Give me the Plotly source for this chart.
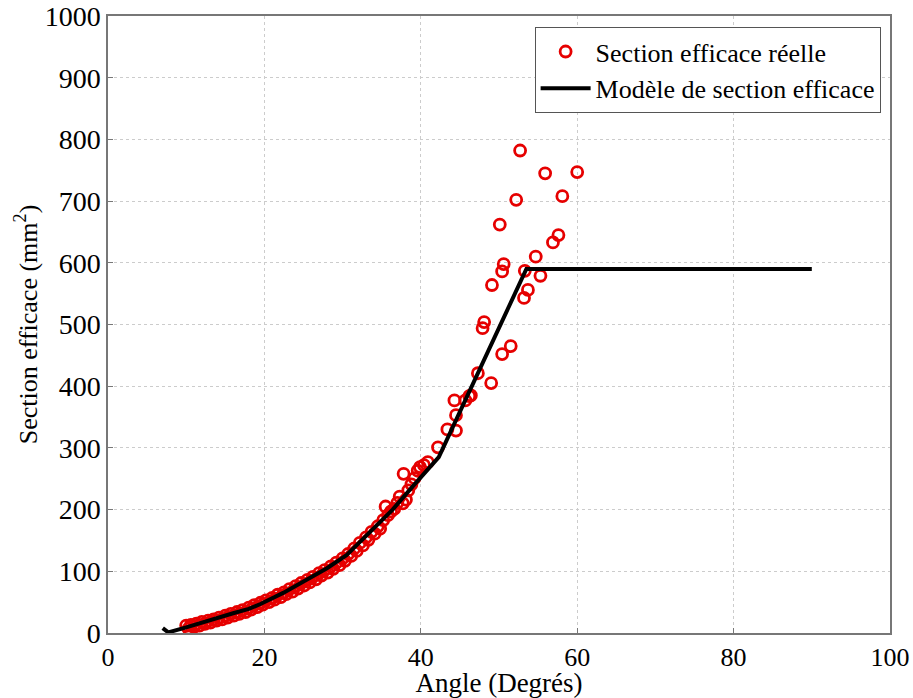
import plotly.graph_objects as go

# Measured cross-section (scatter)
meas_x = [10.0, 10.3, 10.6, 11.0, 11.3, 11.7, 12.0, 12.4, 12.8, 13.1, 13.5, 13.9, 14.2, 14.6,
          15.0, 15.3, 15.7, 16.1, 16.5, 16.8, 17.2, 17.6, 18.0, 18.3, 18.7, 19.1, 19.5, 19.8,
          20.2, 20.6, 21.0, 21.3, 21.7, 22.1, 22.5, 22.8, 23.2, 23.6, 24.0, 24.3, 24.7, 25.1,
          25.5, 25.8, 26.2, 26.6, 27.0, 27.3, 27.7, 28.1, 28.5, 28.8, 29.2, 29.6, 30.0, 30.3,
          30.7, 31.1, 31.5, 31.8, 32.2, 32.6, 33.0, 33.3, 33.7, 34.1, 34.5, 34.8, 35.2, 35.5,
          35.8, 36.2, 36.6, 37.0, 37.3, 37.7, 37.8, 38.1, 38.4, 38.8, 39.2, 39.6, 39.9, 40.4,
          40.9, 42.2, 43.4, 44.5, 44.3, 44.5, 46.4, 45.7, 46.2, 47.3, 47.9, 48.1, 49.0, 49.1,
          50.1, 50.4, 50.4, 50.6, 51.5, 52.2, 52.7, 53.2, 53.3, 53.7, 54.7, 55.3, 55.9, 56.9,
          57.6, 58.1, 60.0]
meas_y = [12, 7, 13, 10, 15, 12, 18, 15, 20, 17, 22, 20, 25, 22,
          28, 25, 31, 28, 34, 31, 37, 34, 41, 38, 45, 42, 49, 46,
          53, 50, 57, 54, 62, 58, 66, 63, 71, 67, 76, 72, 81, 77,
          86, 82, 91, 87, 97, 93, 102, 98, 108, 104, 114, 110, 121, 117,
          128, 125, 137, 133, 146, 142, 155, 151, 164, 161, 173, 169, 183, 205,
          191, 197, 201, 211, 221, 210, 258, 216, 231, 241, 251, 263, 269, 272,
          277, 301, 330, 328, 377, 353, 385, 377, 384, 421, 494, 504, 405, 564,
          662, 452, 586, 598, 465, 702, 782, 543, 587, 556, 610, 579, 745, 633,
          645, 708, 747]

# Cross-section model (line)
model_x = [7.0, 7.7, 10, 12, 14, 16, 18, 19.5, 22.4, 24.6, 28, 30.5, 33, 36.4, 39, 42.3, 53.5, 90]
model_y = [8, 1, 9, 17, 25, 32, 39, 47, 65, 81, 105, 126, 157, 200, 238, 285, 590, 590]

x_ticks = [0, 20, 40, 60, 80, 100]
y_ticks = [0, 100, 200, 300, 400, 500, 600, 700, 800, 900, 1000]

FONT = "Liberation Serif"
RED = "#e60000"

fig = go.Figure()
fig.add_trace(go.Scatter(
    x=meas_x, y=meas_y, mode="markers", name="Section efficace réelle",
    marker=dict(symbol="circle-open", size=11, color=RED,
                line=dict(width=2.8, color=RED)),
))
fig.add_trace(go.Scatter(
    x=model_x, y=model_y, mode="lines", name="Modèle de section efficace",
    line=dict(color="black", width=4),
))

axis_common = dict(
    showline=True, linecolor="#777777", linewidth=1.5, mirror=True,
    ticks="inside", ticklen=5, tickcolor="#777777",
    showgrid=True, gridcolor="#cccccc", griddash="dot", gridwidth=1,
    zeroline=False, automargin=False, ticklabeloverflow="allow",
)

fig.update_layout(
    width=913, height=698,
    margin=dict(l=108, r=23, t=16, b=65),
    plot_bgcolor="white", paper_bgcolor="white",
    font=dict(family=FONT, color="black"),
    xaxis=dict(range=[0, 100], tickvals=x_ticks,
               tickfont=dict(family=FONT, size=26, color="black"),
               title=dict(text="Angle (Degrés)", font=dict(family=FONT, size=27), standoff=0),
               **axis_common),
    yaxis=dict(range=[0, 1000], tickvals=y_ticks,
               tickfont=dict(family=FONT, size=28, color="black"),
               title=dict(text="Section efficace (mm<sup>2</sup>)", font=dict(family=FONT, size=26),
                          standoff=0),
               **axis_common),
    legend=dict(x=0.988, y=0.982, xanchor="right", yanchor="top",
                bgcolor="white", bordercolor="#555555", borderwidth=1,
                font=dict(family=FONT, size=26, color="black"),
                tracegroupgap=0, itemwidth=50),
    showlegend=True,
)

fig.write_html("out.html", config={"displayModeBar": False},
               post_script="document.body.style.margin='0';document.body.style.overflow='hidden';")
